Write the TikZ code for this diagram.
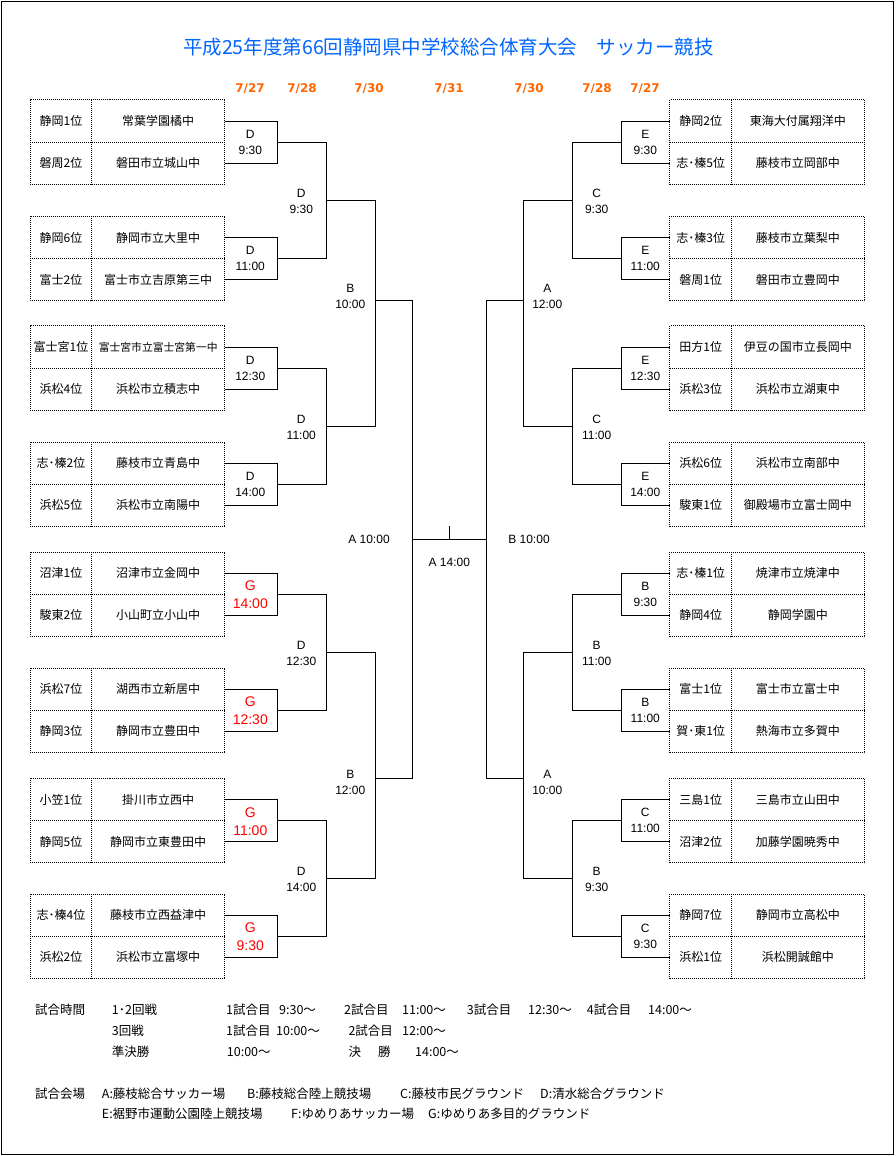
\documentclass[tikz,border=0pt]{standalone}
\usepackage{fontspec}
\setmainfont{Noto Sans CJK JP}
\newfontfamily\latf{Liberation Sans}
\newfontfamily\datef{DejaVu Sans}
\definecolor{ttlblue}{RGB}{0,102,255}
\definecolor{dateorange}{RGB}{255,102,0}
\definecolor{gred}{RGB}{255,0,0}
\tikzset{
  br/.style={line width=1pt},
  dotline/.style={line width=0.9pt, dash pattern=on 1pt off 1pt},
  rankc/.style={minimum width=61.4pt, minimum height=42pt, inner sep=0pt, font=\fontsize{12}{14}\selectfont},
  schc/.style={minimum width=133pt, minimum height=42pt, inner sep=0pt, font=\fontsize{12}{14}\selectfont},
  lbl/.style={inner sep=0pt, font=\latf\fontsize{12}{14}\selectfont},
  rlbl/.style={inner sep=0pt, text=gred, font=\latf\fontsize{14}{16}\selectfont},
  datel/.style={inner sep=0pt, text=dateorange, font=\datef\bfseries\fontsize{12}{14}\selectfont},
  foot/.style={anchor=base west, inner sep=0pt, font=\fontsize{12.5}{14}\selectfont},
  ttl/.style={inner sep=0pt, text=ttlblue, font=\fontsize{19.5}{22}\selectfont},
  frame/.style={line width=1pt}
}
% left group: id, top, rank1, school1, rank2, school2
\newcommand\grpL[6]{%
  \node[rankc] (L#1ar) at (61,#2+21) {#3};
  \node[schc]  (L#1as) at (158.2,#2+21) {#4};
  \node[rankc] (L#1br) at (61,#2+63) {#5};
  \node[schc]  (L#1bs) at (158.2,#2+63) {#6};
  \draw[dotline] (L#1ar.north west) rectangle (L#1bs.south east);
  \draw[dotline] (L#1ar.south west) -- (L#1as.south east);
  \draw[dotline] (L#1ar.north east) -- (L#1br.south east);
}
\newcommand\grpR[6]{%
  \node[rankc] (R#1ar) at (700.8,#2+21) {#3};
  \node[schc]  (R#1as) at (797.8,#2+21) {#4};
  \node[rankc] (R#1br) at (700.8,#2+63) {#5};
  \node[schc]  (R#1bs) at (797.8,#2+63) {#6};
  \draw[dotline] (R#1ar.north west) rectangle (R#1bs.south east);
  \draw[dotline] (R#1ar.south west) -- (R#1as.south east);
  \draw[dotline] (R#1ar.north east) -- (R#1br.south east);
}
% match label: name, style, x, y letter, y time, letter, time
\newcommand\mlab[7]{%
  \node[#2] (#1l) at (#3,#4) {#6};
  \node[#2] (#1t) at (#3,#5) {#7};
}
\begin{document}
\begin{tikzpicture}[x=1pt,y=-1pt]
\useasboundingbox (0,0) rectangle (895,1156);
\draw[frame] (1.5,1.5) rectangle (893.5,1154.5);

\node[ttl] (title) at (448.5,47) {平成25年度第66回静岡県中学校総合体育大会　サッカー競技};

\node[datel] (d1) at (250,89) {7/27};
\node[datel] (d2) at (302,89) {7/28};
\node[datel] (d3) at (369,89) {7/30};
\node[datel] (d4) at (449,89) {7/31};
\node[datel] (d5) at (529,89) {7/30};
\node[datel] (d6) at (597,89) {7/28};
\node[datel] (d7) at (645,89) {7/27};

% ---------- left teams ----------
\grpL{1}{100}{静岡1位}{常葉学園橘中}{磐周2位}{磐田市立城山中}
\grpL{2}{216.5}{静岡6位}{静岡市立大里中}{富士2位}{富士市立吉原第三中}
\grpL{3}{326}{富士宮1位}{{\fontsize{10.8}{12}\selectfont 富士宮市立富士宮第一中}}{浜松4位}{浜松市立積志中}
\grpL{4}{442.3}{志･榛2位}{藤枝市立青島中}{浜松5位}{浜松市立南陽中}
\grpL{5}{552.3}{沼津1位}{沼津市立金岡中}{駿東2位}{小山町立小山中}
\grpL{6}{668.3}{浜松7位}{湖西市立新居中}{静岡3位}{静岡市立豊田中}
\grpL{7}{778.5}{小笠1位}{掛川市立西中}{静岡5位}{静岡市立東豊田中}
\grpL{8}{894.3}{志･榛4位}{藤枝市立西益津中}{浜松2位}{浜松市立富塚中}

% ---------- right teams ----------
\grpR{1}{100}{静岡2位}{東海大付属翔洋中}{志･榛5位}{藤枝市立岡部中}
\grpR{2}{216.5}{志･榛3位}{藤枝市立葉梨中}{磐周1位}{磐田市立豊岡中}
\grpR{3}{326}{田方1位}{伊豆の国市立長岡中}{浜松3位}{浜松市立湖東中}
\grpR{4}{442.3}{浜松6位}{浜松市立南部中}{駿東1位}{御殿場市立富士岡中}
\grpR{5}{552.3}{志･榛1位}{焼津市立焼津中}{静岡4位}{静岡学園中}
\grpR{6}{668.3}{富士1位}{富士市立富士中}{賀･東1位}{熱海市立多賀中}
\grpR{7}{778.5}{三島1位}{三島市立山田中}{沼津2位}{加藤学園暁秀中}
\grpR{8}{894.3}{静岡7位}{静岡市立高松中}{浜松1位}{浜松開誠館中}

% ---------- junctions ----------
\coordinate (L1m) at (277.3,142);
\coordinate (L2m) at (277.3,258.5);
\coordinate (L3m) at (277.3,368);
\coordinate (L4m) at (277.3,484.3);
\coordinate (L5m) at (277.3,594.3);
\coordinate (L6m) at (277.3,710.3);
\coordinate (L7m) at (277.3,820.5);
\coordinate (L8m) at (277.3,936.3);
\coordinate (L12m) at (326.3,200.3);
\coordinate (L34m) at (326.3,426.3);
\coordinate (L56m) at (326.3,652.3);
\coordinate (L78m) at (326.3,878.4);
\coordinate (L14m) at (375.7,300.3);
\coordinate (L58m) at (375.7,778.3);
\coordinate (LS) at (412.7,539.3);

\coordinate (R1m) at (621,142);
\coordinate (R2m) at (621,258.5);
\coordinate (R3m) at (621,368);
\coordinate (R4m) at (621,484.3);
\coordinate (R5m) at (621,594.3);
\coordinate (R6m) at (621,710.3);
\coordinate (R7m) at (621,820.5);
\coordinate (R8m) at (621,936.3);
\coordinate (R12m) at (572.3,200.3);
\coordinate (R34m) at (572.3,426.3);
\coordinate (R56m) at (572.3,652.3);
\coordinate (R78m) at (572.3,878.4);
\coordinate (R14m) at (523.3,300.3);
\coordinate (R58m) at (523.3,778.3);
\coordinate (RS) at (486.3,539.3);

\coordinate (F) at (449.3,539.3);
\coordinate (Ftop) at (449.3,526);

% ---------- connectors ----------
\foreach \g in {1,...,8}{
  \draw[br] (L\g as.east) -| (L\g m);
  \draw[br] (L\g bs.east) -| (L\g m);
  \draw[br] (R\g ar.west) -| (R\g m);
  \draw[br] (R\g br.west) -| (R\g m);
}
\foreach \s in {L,R}{
  \draw[br] (\s1m) -| (\s12m);
  \draw[br] (\s2m) -| (\s12m);
  \draw[br] (\s3m) -| (\s34m);
  \draw[br] (\s4m) -| (\s34m);
  \draw[br] (\s5m) -| (\s56m);
  \draw[br] (\s6m) -| (\s56m);
  \draw[br] (\s7m) -| (\s78m);
  \draw[br] (\s8m) -| (\s78m);
  \draw[br] (\s12m) -| (\s14m);
  \draw[br] (\s34m) -| (\s14m);
  \draw[br] (\s56m) -| (\s58m);
  \draw[br] (\s78m) -| (\s58m);
  \draw[br] (\s14m) -| (\s S);
  \draw[br] (\s58m) -| (\s S);
}
\draw[br] (LS) -- (RS);
\draw[br] (F) -- (Ftop);

% ---------- match labels, left ----------
\mlab{la1}{lbl}{250.3}{134}{150}{D}{9:30}
\mlab{la2}{lbl}{250.3}{250.5}{266.5}{D}{11:00}
\mlab{la3}{lbl}{250.3}{360}{376}{D}{12:30}
\mlab{la4}{lbl}{250.3}{476.3}{492.3}{D}{14:00}
\mlab{la5}{rlbl}{250.3}{586}{604}{G}{14:00}
\mlab{la6}{rlbl}{250.3}{702}{720}{G}{12:30}
\mlab{la7}{rlbl}{250.3}{812.2}{830.2}{G}{11:00}
\mlab{la8}{rlbl}{250.3}{928}{946}{G}{9:30}
\mlab{lb1}{lbl}{301.3}{193.3}{209.3}{D}{9:30}
\mlab{lb2}{lbl}{301.3}{419.3}{435.3}{D}{11:00}
\mlab{lb3}{lbl}{301.3}{645.3}{661.3}{D}{12:30}
\mlab{lb4}{lbl}{301.3}{871.4}{887.4}{D}{14:00}
\mlab{lc1}{lbl}{350.3}{288.7}{304.3}{B}{10:00}
\mlab{lc2}{lbl}{350.3}{774.3}{790.3}{B}{12:00}

% ---------- match labels, right ----------
\mlab{ra1}{lbl}{645.3}{134}{150}{E}{9:30}
\mlab{ra2}{lbl}{645.3}{250.5}{266.5}{E}{11:00}
\mlab{ra3}{lbl}{645.3}{360}{376}{E}{12:30}
\mlab{ra4}{lbl}{645.3}{476.3}{492.3}{E}{14:00}
\mlab{ra5}{lbl}{645.3}{586.3}{602.3}{B}{9:30}
\mlab{ra6}{lbl}{645.3}{702.3}{718.3}{B}{11:00}
\mlab{ra7}{lbl}{645.3}{812.5}{828.5}{C}{11:00}
\mlab{ra8}{lbl}{645.3}{928.3}{944.3}{C}{9:30}
\mlab{rb1}{lbl}{596.7}{193.3}{209.3}{C}{9:30}
\mlab{rb2}{lbl}{596.7}{419.3}{435.3}{C}{11:00}
\mlab{rb3}{lbl}{596.7}{645.3}{661.3}{B}{11:00}
\mlab{rb4}{lbl}{596.7}{871.4}{887.4}{B}{9:30}
\mlab{rc1}{lbl}{547.3}{288.7}{304.3}{A}{12:00}
\mlab{rc2}{lbl}{547.3}{774.3}{790.3}{A}{10:00}

\node[lbl] (semiL) at (369,539.3) {A 10:00};
\node[lbl] (semiR) at (529,539.3) {B 10:00};
\node[lbl] (final) at (449.3,562.7) {A 14:00};

% ---------- footer ----------
\node[foot] (f11) at (35,1014.6) {試合時間};
\node[foot] (f12) at (111.7,1014.6) {1･2回戦};
\node[foot] (f13) at (226,1014.6) {1試合目};
\node[foot] (f14) at (279,1014.6) {9:30～};
\node[foot] (f15) at (344,1014.6) {2試合目};
\node[foot] (f16) at (402,1014.6) {11:00～};
\node[foot] (f17) at (466.7,1014.6) {3試合目};
\node[foot] (f18) at (528,1014.6) {12:30～};
\node[foot] (f19) at (586.7,1014.6) {4試合目};
\node[foot] (f1a) at (648,1014.6) {14:00～};

\node[foot] (f21) at (111.7,1035.1) {3回戦};
\node[foot] (f22) at (226,1035.1) {1試合目};
\node[foot] (f23) at (276,1035.1) {10:00～};
\node[foot] (f24) at (348.3,1035.1) {2試合目};
\node[foot] (f25) at (402,1035.1) {12:00～};

\node[foot] (f31) at (111.7,1056.3) {準決勝};
\node[foot] (f32) at (226.7,1056.3) {10:00～};
\node[foot] (f33) at (348.3,1056.3) {決};
\node[foot] (f34) at (378,1056.3) {勝};
\node[foot] (f35) at (415,1056.3) {14:00～};

\node[foot] (f41) at (35,1098.9) {試合会場};
\node[foot] (f42) at (101.7,1098.9) {A:藤枝総合サッカー場};
\node[foot] (f43) at (247,1098.9) {B:藤枝総合陸上競技場};
\node[foot] (f44) at (400,1098.9) {C:藤枝市民グラウンド};
\node[foot] (f45) at (540,1098.9) {D:清水総合グラウンド};

\node[foot] (f51) at (101.7,1118.1) {E:裾野市運動公園陸上競技場};
\node[foot] (f52) at (291,1118.1) {F:ゆめりあサッカー場};
\node[foot] (f53) at (428,1118.1) {G:ゆめりあ多目的グラウンド};
\end{tikzpicture}
\end{document}
